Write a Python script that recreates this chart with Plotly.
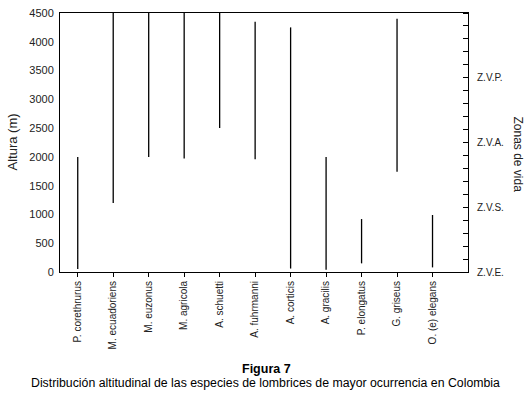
import plotly.graph_objects as go

species = ["P. corethrurus", "M. ecuadoriens", "M. euzonus", "M. agricola", "A. schuetti",
           "A. fuhrmanni", "A. corticis", "A. gracilis", "P. elongatus", "G. griseus",
           "O. (e) elegans"]
alt_min = [50, 1200, 2000, 1970, 2500, 1960, 60, 40, 150, 1740, 80]
alt_max = [2000, 4500, 4500, 4500, 4500, 4350, 4250, 2000, 920, 4400, 990]

zone_vals = [0, 1125, 2250, 3375]
zone_labels = ["Z.V.E.", "Z.V.S.", "Z.V.A.", "Z.V.P."]
y_ticks = list(range(0, 4501, 500))

xs, ys = [], []
for s, lo, hi in zip(species, alt_min, alt_max):
    xs += [s, s, None]
    ys += [lo, hi, None]

FONT = "Liberation Sans, Arial, sans-serif"

fig = go.Figure()
fig.add_trace(go.Scatter(x=xs, y=ys, mode="lines",
                         line=dict(color="black", width=1.3),
                         hoverinfo="skip", showlegend=False, connectgaps=False))
fig.add_trace(go.Scatter(x=[species[0]], y=[0], yaxis="y2", mode="markers",
                         marker=dict(opacity=0), showlegend=False, hoverinfo="skip"))

fig.update_layout(
    width=528, height=396,
    margin=dict(l=60, r=60, t=13, b=124),
    paper_bgcolor="white", plot_bgcolor="white",
    font=dict(family=FONT, color="#222", size=11),
    xaxis=dict(type="category", categoryorder="array", categoryarray=species,
               range=[-0.5, 11], tickangle=-90, ticks="outside", ticklen=4,
               tickcolor="black", tickwidth=1, automargin=False,
               tickfont=dict(size=10), showline=True, linecolor="black",
               linewidth=1, mirror=True, showgrid=False, zeroline=False),
    yaxis=dict(range=[0, 4500], tickvals=y_ticks, ticks="", showline=True,
               linecolor="black", linewidth=1, showgrid=False, zeroline=False,
               tickfont=dict(size=11), ticklabelstandoff=3, automargin=False),
    yaxis2=dict(overlaying="y", side="right", range=[0, 4500],
                tickvals=zone_vals, ticktext=zone_labels, ticks="",
                showline=True, linecolor="black", linewidth=1, automargin=False,
                showgrid=False, zeroline=False, tickfont=dict(size=10),
                ticklabelstandoff=6,
                minor=dict(tick0=0, dtick=225, ticks="inside", ticklen=5,
                           tickcolor="black", tickwidth=1, showgrid=False)),
)

fig.add_annotation(text="Altura (m)", xref="paper", yref="paper",
                   x=0, xshift=-48, y=0.5, textangle=-90, showarrow=False,
                   font=dict(size=13, color="#222"), xanchor="center", yanchor="middle")
fig.add_annotation(text="Zonas de vida", xref="paper", yref="paper",
                   x=1.0, xshift=50, y=0.5, yshift=-12, textangle=90, showarrow=False,
                   font=dict(size=12, color="#222"), xanchor="center", yanchor="middle")
fig.add_annotation(text="<b>Figura 7</b>", xref="paper", yref="paper",
                   x=0.5, xshift=2, y=0, yshift=-97, showarrow=False,
                   font=dict(size=12.5, color="black"), yanchor="middle")
fig.add_annotation(text="Distribución altitudinal de las especies de lombrices de mayor ocurrencia en Colombia",
                   xref="paper", yref="paper", x=0.5, xshift=1, y=0, yshift=-111,
                   showarrow=False, font=dict(size=12.3, color="black"), yanchor="middle")

fig.write_html("out.html", config={"displayModeBar": False},
               post_script="document.body.style.margin='0';document.body.style.overflow='hidden';")
